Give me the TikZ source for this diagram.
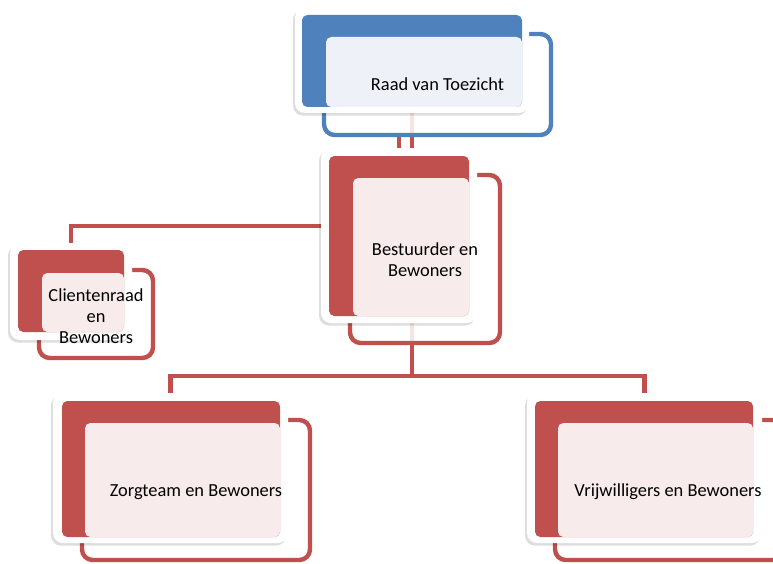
\documentclass[tikz,border=0pt]{standalone}
\usepackage{fontspec}
\setmainfont{Carlito}
\usetikzlibrary{shadows,fit}
\definecolor{bluec}{HTML}{4F81BD}
\definecolor{bluel}{HTML}{EEF2F8}
\definecolor{redc}{HTML}{C0504D}
\definecolor{redl}{HTML}{F8EBEB}
\pgfdeclarelayer{bg}
\pgfsetlayers{bg,main}
\tikzset{
  conn/.style={draw=redc, line width=3.4pt},
  backouter/.style={fit={#1}, inner sep=0pt, outer sep=0pt, rectangle, fill=white, rounded corners=7.5pt,
    drop shadow={shadow xshift=-1.5pt, shadow yshift=-2pt, opacity=0.13, fill=black}},
  backfill/.style={fit={#1}, inner sep=0pt, outer sep=0pt, rectangle, rounded corners=4pt},
  frontbox/.style={fit={#1}, inner sep=0pt, outer sep=0pt, rectangle, line width=3.3pt, fill=white,
    fill opacity=0.85, rounded corners=8pt},
  lightbox/.style={fit={#1}, inner sep=0pt, outer sep=0pt, rectangle, rounded corners=4pt},
  lbl/.style={font=\fontsize{13.8}{15.8}\selectfont, align=center, text=black, inner sep=0pt},
}
\begin{document}
\begin{tikzpicture}[x=0.75pt, y=-0.75pt]
\useasboundingbox (0,0) rectangle (773,563);
% ---------- Raad van Toezicht ----------
\node[frontbox={(324,34) (551,135)}, draw=bluec] (f1) {};
\node[backouter={(295,7) (529,113)}] (b1) {};
\node[backfill={(302,15) (522,107)}, fill=bluec] (c1) {};
\node[lightbox={(326,37) (522,107)}, fill=bluel] (l1) {};
\node[lbl] (t1) at (f1.center) {Raad van Toezicht};
% ---------- Bestuurder ----------
\node[frontbox={(350,175) (500,343)}, draw=redc] (f2) {};
\node[backouter={(321,148) (477,323)}] (b2) {};
\node[backfill={(329,156) (469,316)}, fill=redc] (c2) {};
\node[lightbox={(353,178) (469,316)}, fill=redl] (l2) {};
\node[lbl] (t2) at ([yshift=-0.8pt]f2.center) {Bestuurder en\\Bewoners};
% ---------- Clientenraad ----------
\node[frontbox={(39,270) (153,358)}, draw=redc] (f3) {};
\node[backouter={(10,243) (132,340)}] (b3) {};
\node[backfill={(18,250) (124,332)}, fill=redc] (c3) {};
\node[lightbox={(42,273) (124,332)}, fill=redl] (l3) {};
\node[lbl] (t3) at ([yshift=-1.5pt]f3.center) {Clientenraad\\en\\Bewoners};
% ---------- Zorgteam ----------
\node[frontbox={(82,420) (310,560)}, draw=redc] (f4) {};
\node[backouter={(53,393) (288,543)}] (b4) {};
\node[backfill={(62,401) (280,537)}, fill=redc] (c4) {};
\node[lightbox={(85,423) (280,537)}, fill=redl] (l4) {};
\node[lbl] (t4) at ([yshift=-1.5pt]f4.center) {Zorgteam en Bewoners};
% ---------- Vrijwilligers ----------
\node[frontbox={(555,420) (783,560)}, draw=redc] (f5) {};
\node[backouter={(527,393) (762,543)}] (b5) {};
\node[backfill={(535,401) (753,537)}, fill=redc] (c5) {};
\node[lightbox={(558,423) (753,537)}, fill=redl] (l5) {};
\node[lbl] (t5) at ([xshift=-0.8pt,yshift=-1.5pt]f5.center) {Vrijwilligers en Bewoners};
% ---------- connectors ----------
\coordinate (j1) at (71,226);
\coordinate (j2) at (412,376);
\begin{pgfonlayer}{bg}
\fill[white] (0,0) rectangle (773,563);
\draw[conn] (b1.south) -- (b1.south |- b2.north);
\draw[conn] (f1.south -| b2.north) -- (b2.north);
\draw[conn] (b2.west |- j1) -- (j1) -- (j1 |- b3.north);
\draw[conn] (b2.south -| j2) -- (j2);
\draw[conn] (b4.north) -- (b4.north |- j2) -- (b5.north |- j2) -- (b5.north);
\end{pgfonlayer}
\end{tikzpicture}
\end{document}
